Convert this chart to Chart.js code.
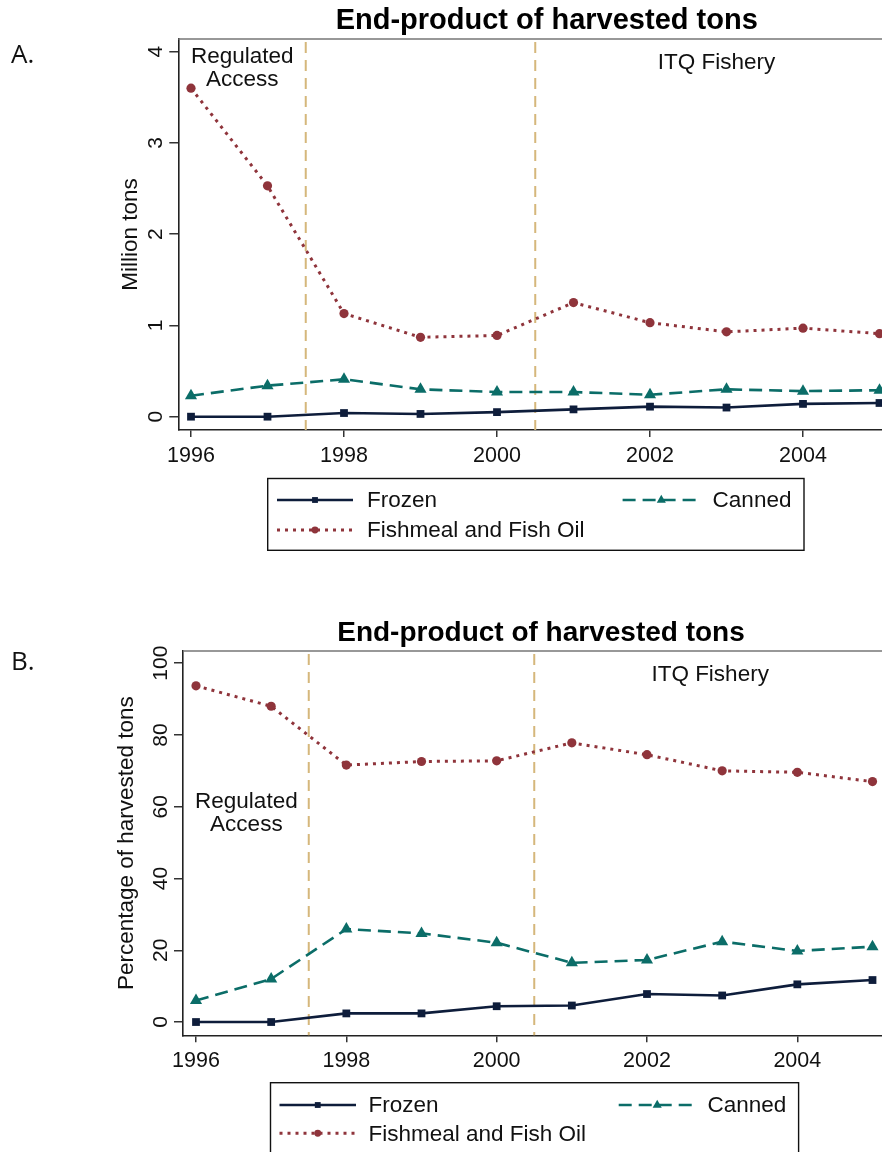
<!DOCTYPE html>
<html>
<head>
<meta charset="utf-8">
<title>End-product of harvested tons</title>
<script src="https://cdn.jsdelivr.net/npm/chart.js@4.4.1/dist/chart.umd.min.js"></script>
<style>
  html, body { margin: 0; padding: 0; background: #fff; overflow: hidden; }
  #page { position: relative; width: 882px; height: 1152px; overflow: hidden; }
  canvas { position: absolute; left: 0; }
  #cTons  { top: 0; }
  #cShare { top: 600px; }
</style>
</head>
<body>
<div id="page">
  <canvas id="cTons" width="920" height="600"></canvas>
  <canvas id="cShare" width="920" height="552"></canvas>
</div>
<script>
(function () {
  'use strict';

  // ── Data ─────────────────────────────────────────────────────
  var YEARS = [1996, 1997, 1998, 1999, 2000, 2001, 2002, 2003, 2004, 2005];

  // A. million tons
  var TONS_FROZEN   = [0.00, 0.00, 0.04, 0.03, 0.05, 0.08, 0.11, 0.10, 0.14, 0.15];
  var TONS_CANNED   = [0.23, 0.34, 0.41, 0.30, 0.27, 0.27, 0.24, 0.30, 0.28, 0.29];
  var TONS_FISHMEAL = [3.60, 2.53, 1.13, 0.87, 0.89, 1.25, 1.03, 0.93, 0.97, 0.91];

  // B. percentage of harvested tons
  var PCT_FROZEN   = [0.0, 0.0, 2.4, 2.4, 4.4, 4.6, 7.8, 7.4, 10.5, 11.7];
  var PCT_CANNED   = [6.0, 12.0, 25.9, 24.7, 22.1, 16.5, 17.3, 22.4, 19.8, 21.0];
  var PCT_FISHMEAL = [93.7, 88.0, 71.6, 72.6, 72.8, 77.8, 74.5, 70.0, 69.6, 67.0];

  var X_TICKS    = [1996, 1998, 2000, 2002, 2004];
  var TONS_TICKS = [0, 1, 2, 3, 4];
  var PCT_TICKS  = [0, 20, 40, 60, 80, 100];
  var PERIOD_BREAKS = [1997.5, 2000.5];
  var SERIES = ['Frozen', 'Canned', 'Fishmeal and Fish Oil'];

  var FONT = '"Liberation Sans", Arial, Helvetica, sans-serif';

  var STYLE = {
    'Frozen':                { color: '#0e1d3b', dash: [],      width: 2.6, point: 'rect',     r: 5.5 },
    'Canned':                { color: '#0b6d68', dash: [13, 7], width: 2.6, point: 'triangle', r: 7 },
    'Fishmeal and Fish Oil': { color: '#8f343b', dash: [3, 5],  width: 3,   point: 'circle',   r: 4.6 }
  };

  // ── helpers ──────────────────────────────────────────────────
  function marker(ctx, kind, x, y, r, color) {
    ctx.save();
    ctx.fillStyle = color;
    ctx.beginPath();
    if (kind === 'rect') {
      var s = r * Math.SQRT1_2;
      ctx.rect(x - s, y - s, 2 * s, 2 * s);
    } else if (kind === 'triangle') {
      ctx.moveTo(x, y - r);
      ctx.lineTo(x + r * 0.866, y + r * 0.5);
      ctx.lineTo(x - r * 0.866, y + r * 0.5);
      ctx.closePath();
    } else {
      ctx.arc(x, y, r, 0, Math.PI * 2);
    }
    ctx.fill();
    ctx.restore();
  }

  function decorPlugin(o) {
    return {
      id: 'decor',
      beforeDatasetsDraw: function (chart) {
        var ctx = chart.ctx, a = chart.chartArea, xs = chart.scales.x;
        ctx.save();
        ctx.strokeStyle = '#d5b77b';
        ctx.lineWidth = 2;
        ctx.setLineDash([11, 7]);
        PERIOD_BREAKS.forEach(function (b) {
          var px = xs.getPixelForValue(b);
          ctx.beginPath();
          ctx.moveTo(px, a.top + 3);
          ctx.lineTo(px, a.bottom);
          ctx.stroke();
        });
        ctx.restore();
      },
      afterDraw: function (chart) {
        var ctx = chart.ctx, a = chart.chartArea, xs = chart.scales.x, ys = chart.scales.y;
        ctx.save();

        // top / right frame
        ctx.strokeStyle = '#777';
        ctx.lineWidth = 1.5;
        ctx.beginPath();
        ctx.moveTo(a.left, a.top);
        ctx.lineTo(a.right, a.top);
        ctx.lineTo(a.right, a.bottom);
        ctx.stroke();

        // y tick labels, rotated
        ctx.fillStyle = '#111';
        ctx.font = '21px ' + FONT;
        ctx.textAlign = 'center';
        ctx.textBaseline = 'alphabetic';
        o.yTicks.forEach(function (v) {
          ctx.save();
          ctx.translate(a.left - 16, ys.getPixelForValue(v));
          ctx.rotate(-Math.PI / 2);
          ctx.fillText(String(v), 0, 0);
          ctx.restore();
        });

        // y title
        ctx.font = '22.5px ' + FONT;
        ctx.save();
        ctx.translate(o.yTitleX, (a.top + a.bottom) / 2);
        ctx.rotate(-Math.PI / 2);
        ctx.fillText(o.yTitle, 0, 0);
        ctx.restore();

        // chart title
        ctx.font = 'bold ' + o.titleSize + 'px ' + FONT;
        ctx.fillStyle = '#000';
        ctx.fillText('End-product of harvested tons', o.titleX, o.titleY);

        // period notes
        ctx.font = '22.5px ' + FONT;
        ctx.fillStyle = '#111';
        o.notes.forEach(function (n) {
          var px = xs.getPixelForValue(n.x), py = ys.getPixelForValue(n.y);
          n.lines.forEach(function (t, i) { ctx.fillText(t, px, py + i * 23); });
        });

        // panel letter
        ctx.textAlign = 'left';
        ctx.font = '26px "Open Sans", ' + FONT;
        ctx.fillText(o.letter, 11, o.letterY);

        // legend
        var L = o.legend;
        ctx.strokeStyle = '#111';
        ctx.lineWidth = 1.4;
        ctx.strokeRect(L.box[0], L.box[1], L.box[2] - L.box[0], L.box[3] - L.box[1]);
        var slots = [[0, 0], [1, 0], [0, 1]];
        ctx.font = '22.5px ' + FONT;
        ctx.textBaseline = 'middle';
        SERIES.forEach(function (name, i) {
          var st = STYLE[name], col = L.cols[slots[i][0]], y = L.rows[slots[i][1]];
          ctx.save();
          ctx.strokeStyle = st.color;
          ctx.lineWidth = st.width;
          ctx.setLineDash(st.dash);
          ctx.beginPath();
          ctx.moveTo(col[0], y);
          ctx.lineTo(col[1], y);
          ctx.stroke();
          ctx.restore();
          marker(ctx, st.point, (col[0] + col[1]) / 2, y, st.r * 0.75, st.color);
          ctx.fillStyle = '#111';
          ctx.fillText(name, col[2], y + 1);
        });

        ctx.restore();
      }
    };
  }

  function makeChart(id, o) {
    var values = [o.frozen, o.canned, o.fishmeal];
    var datasets = SERIES.map(function (name, k) {
      var st = STYLE[name];
      return {
        label: name,
        data: YEARS.map(function (yr, i) { return { x: yr, y: values[k][i] }; }),
        borderColor: st.color,
        backgroundColor: st.color,
        borderWidth: st.width,
        borderDash: st.dash,
        pointStyle: st.point,
        pointRadius: st.r,
        pointHoverRadius: st.r,
        pointBorderWidth: 0,
        tension: 0,
        clip: false
      };
    });

    return new Chart(document.getElementById(id).getContext('2d'), {
      type: 'line',
      data: { datasets: datasets },
      options: {
        responsive: false,
        animation: false,
        events: [],
        layout: { padding: { left: 0, top: o.padTop, right: o.padRight, bottom: 0 } },
        plugins: { legend: { display: false }, tooltip: { enabled: false }, title: { display: false } },
        scales: {
          x: {
            type: 'linear',
            min: o.xmin, max: o.xmax,
            afterBuildTicks: function (s) { s.ticks = X_TICKS.map(function (v) { return { value: v }; }); },
            afterFit: function (s) { s.height = o.xAxisHeight; },
            grid: { drawOnChartArea: false, drawTicks: true, tickLength: 7, color: '#333', lineWidth: 1.5 },
            border: { display: true, color: '#222', width: 1.6 },
            ticks: {
              padding: 6, color: '#111', maxRotation: 0, autoSkip: false,
              font: { family: FONT, size: 21.5 },
              callback: function (v) { return String(v); }
            }
          },
          y: {
            type: 'linear',
            min: o.ymin, max: o.ymax,
            afterBuildTicks: function (s) { s.ticks = o.yTicks.map(function (v) { return { value: v }; }); },
            afterFit: function (s) { s.width = o.yAxisWidth; },
            grid: { drawOnChartArea: false, drawTicks: true, tickLength: 9, color: '#333', lineWidth: 1.5 },
            border: { display: true, color: '#222', width: 1.6 },
            ticks: { display: false }
          }
        }
      },
      plugins: [decorPlugin(o)]
    });
  }

  // ── A. Million tons ──────────────────────────────────────────
  makeChart('cTons', {
    frozen: TONS_FROZEN, canned: TONS_CANNED, fishmeal: TONS_FISHMEAL,
    yTicks: TONS_TICKS, ymin: -0.146, ymax: 4.139,
    xmin: 1995.834, xmax: 2005.166,
    padTop: 39, padRight: 27.8, yAxisWidth: 178.3, xAxisHeight: 170,
    yTitle: 'Million tons', yTitleX: 136.5,
    titleX: 546.7, titleY: 29, titleSize: 29,
    letter: 'A.', letterY: 63,
    notes: [
      { lines: ['Regulated', 'Access'], x: 1996.67, y: 3.873 },
      { lines: ['ITQ Fishery'], x: 2002.87, y: 3.81 }
    ],
    legend: { box: [267.7, 478.5, 804, 550.3], rows: [500, 530], cols: [[277, 353, 367], [622.6, 700, 712.6]] }
  });

  // ── B. Percentage of harvested tons ─────────────────────────
  makeChart('cShare', {
    frozen: PCT_FROZEN, canned: PCT_CANNED, fishmeal: PCT_FISHMEAL,
    yTicks: PCT_TICKS, ymin: -3.7, ymax: 103.4,
    xmin: 1995.827, xmax: 2005.173,
    padTop: 51, padRight: 34.5, yAxisWidth: 183, xAxisHeight: 116.7,
    yTitle: 'Percentage of harvested tons', yTitleX: 133,
    titleX: 541, titleY: 40.7, titleSize: 28,
    letter: 'B.', letterY: 70,
    notes: [
      { lines: ['Regulated', 'Access'], x: 1996.67, y: 59.6 },
      { lines: ['ITQ Fishery'], x: 2002.84, y: 95.05 }
    ],
    legend: { box: [270.5, 482.7, 798.6, 560], rows: [505, 533.3], cols: [[279.5, 356, 368.4], [618.7, 695.7, 707.5]] }
  });
})();
</script>
</body>
</html>
